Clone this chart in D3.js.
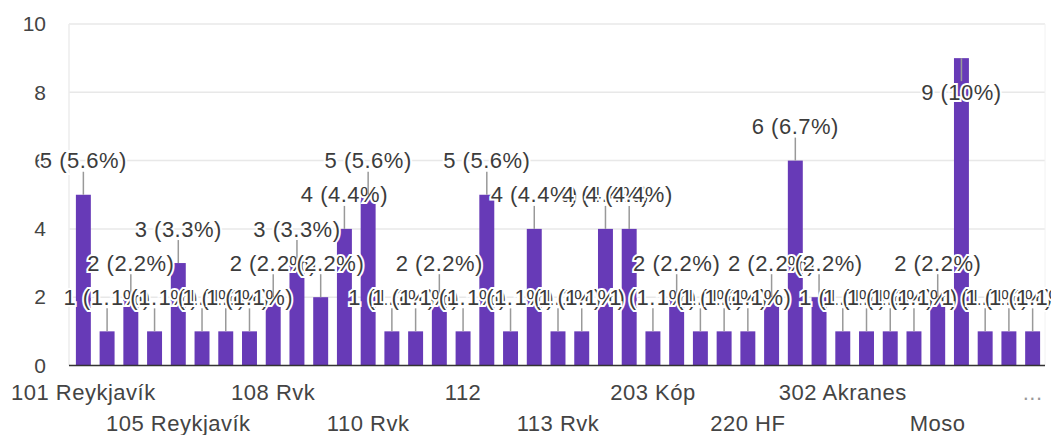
<!DOCTYPE html>
<html>
<head>
<meta charset="utf-8">
<script src="https://cdn.jsdelivr.net/npm/d3@7"></script>
<style>
  body { margin: 0; background: #fff; }
  svg text { font-family: "Liberation Sans", Arial, sans-serif; }
</style>
</head>
<body>
<div id="chart"></div>
<script>
// answers to "póstnúmer" question, 90 responses
const categories = [
  "101 Reykjavík", "101 Rvk", "102 Reykjavík", "103 Reykjavík",
  "105 Reykjavík", "105 Rvk", "107 Reykjavík", "107 Rvk",
  "108 Rvk", "109 Reykjavík", "109 Rvk", "110 Reykjavík",
  "110 Rvk", "111 Reykjavík", "111 Rvk", "112 Reykjavík",
  "112", "112 Rvk", "113 Reykjavík", "113 Grafarholt",
  "113 Rvk", "116 Reykjavík", "170 Seltjarnarnes", "200 Kópavogur",
  "203 Kóp", "210 Garðabær", "220 Hafnarfjörður", "221 Hafnarfjörður",
  "220 HF", "225 Álftanes", "230 Reykjanesbær", "270 Mosfellsbær",
  "302 Akranes", "600 Akureyri", "800 Selfoss", "Garðabær",
  "Moso", "Mosfellsbær", "Reykjavík", "Rvk",
  "Utan höfuðborgarsvæðisins"
];
const counts = [
  5, 1, 2, 1, 3, 1, 1, 1, 2, 3, 2, 4, 5,
  1, 1, 2, 1, 5, 1, 4, 1, 1, 4, 4, 1, 2,
  1, 1, 1, 2, 6, 2, 1, 1, 1, 1, 2, 9, 1, 1, 1
];
const yTicks = [0, 2, 4, 6, 8, 10];
const total = d3.sum(counts);

const W = 1051, H = 435;
const plot = { left: 69, right: 1045, top: 24, bottom: 365.5 };

const svg = d3.select("#chart").append("svg")
  .attr("width", W)
  .attr("height", H);

const x = d3.scaleBand()
  .domain(d3.range(categories.length))
  .range([71.5, 1044.5])
  .paddingInner(0.37)
  .paddingOuter(0.185);

const y = d3.scaleLinear().domain([0, 10]).range([plot.bottom, plot.top]);

// grid
svg.append("g").selectAll("line")
  .data(yTicks.filter(t => t > 0))
  .join("line")
  .attr("x1", plot.left).attr("x2", plot.right)
  .attr("y1", d => y(d)).attr("y2", d => y(d))
  .attr("stroke", "#e8e8e8")
  .attr("stroke-width", 1.5);

svg.append("line")
  .attr("x1", plot.left).attr("x2", plot.left)
  .attr("y1", plot.top).attr("y2", plot.bottom)
  .attr("stroke", "#ececec").attr("stroke-width", 1.5);
svg.append("line")
  .attr("x1", plot.right).attr("x2", plot.right)
  .attr("y1", plot.top).attr("y2", plot.bottom)
  .attr("stroke", "#f2f2f2").attr("stroke-width", 1);

// y axis labels
const yAxis = svg.append("g")
  .attr("transform", `translate(46,0)`)
  .call(d3.axisLeft(y).tickValues(yTicks).tickSize(0).tickPadding(0));
yAxis.select(".domain").remove();
yAxis.selectAll("text")
  .attr("fill", "#444")
  .style("font-size", "21px");

// bars
svg.append("g").selectAll("rect")
  .data(counts)
  .join("rect")
  .attr("x", (d, i) => x(i))
  .attr("y", d => y(d))
  .attr("width", x.bandwidth())
  .attr("height", d => y(0) - y(d))
  .attr("fill", "#673ab7");

// baseline
svg.append("line")
  .attr("x1", plot.left).attr("x2", plot.right)
  .attr("y1", y(0)).attr("y2", y(0))
  .attr("stroke", "#333").attr("stroke-width", 1.5);

// annotations with stems
const ann = svg.append("g");
counts.forEach((v, i) => {
  const cx = x(i) + x.bandwidth() / 2;
  const top = y(v);
  const inside = top - 45 < plot.top;
  const ly = inside ? top + 34 : top - 34;
  ann.append("line")
    .attr("x1", cx).attr("x2", cx)
    .attr("y1", top).attr("y2", inside ? top + 23 : top - 23)
    .attr("stroke", "#999").attr("stroke-width", 1.5);
  ann.append("text")
    .attr("x", cx)
    .attr("y", ly)
    .attr("text-anchor", "middle")
    .attr("dominant-baseline", "central")
    .attr("fill", "#3c3c3c")
    .attr("stroke", "#fff")
    .attr("stroke-width", 4)
    .attr("paint-order", "stroke")
    .style("font-size", "22px")
    .style("letter-spacing", "0.5px")
    .text(`${v} (${d3.format(".2~")(v / total * 100)}%)`);
});

// x labels, every 4th, alternating rows
const xl = svg.append("g");
categories.forEach((c, i) => {
  if (i % 4 !== 0) return;
  const cx = x(i) + x.bandwidth() / 2;
  const row = (i / 4) % 2;
  const t = xl.append("text")
    .attr("x", cx)
    .attr("y", row === 0 ? 392 : 423)
    .attr("text-anchor", "middle")
    .attr("dominant-baseline", "central")
    .attr("fill", "#444")
    .style("font-size", "22px")
    .style("letter-spacing", "0.5px")
    .text(c);
  if (cx + t.node().getComputedTextLength() / 2 > W) {
    t.text("...").attr("fill", "#999");
  }
});
</script>
</body>
</html>
